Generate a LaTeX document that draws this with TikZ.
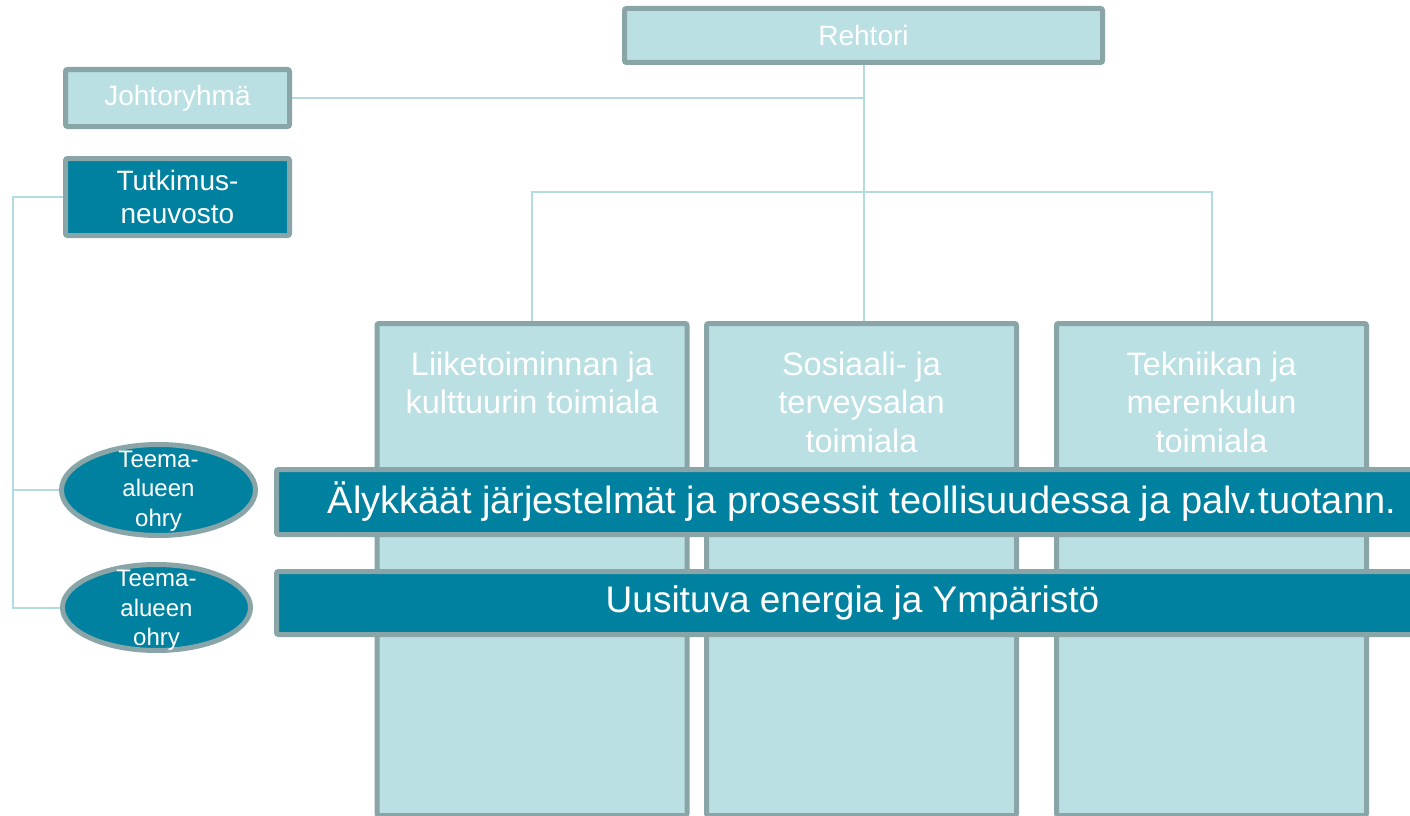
\documentclass[tikz,border=0pt]{standalone}
\usepackage{fontspec}
\setmainfont{Liberation Sans}
\usetikzlibrary{shapes,positioning,backgrounds}
\definecolor{vaalea}{HTML}{BAE0E3}
\definecolor{tumma}{HTML}{0081A0}
\definecolor{reuna}{HTML}{8AA5A7}
\definecolor{viiva}{HTML}{B2DCDF}

\begin{document}
\begin{tikzpicture}[x=1pt,y=-1pt,
        laatikko/.style={rectangle,draw=reuna,line width=5pt,rounded corners=2pt,inner sep=0pt,outer sep=0pt,text=white,align=center},
        vaalea laatikko/.style={laatikko,fill=vaalea},
        tumma laatikko/.style={laatikko,fill=tumma},
        pieni/.style={font=\fontsize{28}{33}\selectfont},
        toimiala/.style={vaalea laatikko,minimum width=310pt,minimum height=492pt},
        otsikko/.style={anchor=north,yshift=-28pt,inner sep=0pt,text=white,align=center,font=\fontsize{32.5}{38.5}\selectfont},
        teema/.style={ellipse,draw=reuna,fill=tumma,line width=5pt,inner sep=0pt,outer sep=0pt},
        teemateksti/.style={anchor=center,inner sep=0pt,text=white,align=center,font=\fontsize{24}{29.5}\selectfont},
        nauha/.style={tumma laatikko,font=\fontsize{37}{44}\selectfont},
        yhteys/.style={draw=viiva,line width=2pt}]
    \useasboundingbox (0,0) rectangle (1410,816);
    \node[vaalea laatikko,pieni,minimum width=478pt,minimum height=54pt] (rehtori) at (863.5,35.5) {Rehtori};
    \node[vaalea laatikko,pieni,minimum width=224pt,minimum height=57pt] (johto) at (177.5,98) {Johtoryhmä};
    \node[tumma laatikko,pieni,minimum width=224pt,minimum height=77pt,below=32pt of johto] (tutk) {Tutkimus-\\neuvosto};
    \node[toimiala,label={[otsikko]north:Liiketoiminnan ja\\kulttuurin toimiala}] (liike) at (532,569.5) {};
    \node[toimiala,label={[otsikko]north:Sosiaali- ja\\terveysalan\\toimiala}] (sote) at (861.5,569.5) {};
    \node[toimiala,label={[otsikko]north:Tekniikan ja\\merenkulun\\toimiala}] (tekniikka) at (1211.5,569.5) {};
    \node[nauha,minimum width=1171pt,minimum height=65pt,font=\fontsize{38}{44}\selectfont] (alykkaat) at (862,502) {Älykkäät järjestelmät ja prosessit teollisuudessa ja palv.tuotann.};
    \node[nauha,minimum width=1152pt,minimum height=63pt] (energia) at (852.5,603) {Uusituva energia ja Ympäristö};
    \node[teema,minimum width=194pt,minimum height=91pt,label={[teemateksti,yshift=-1pt]center:Teema-\\alueen\\ohry}] (teema1) at (158.5,490) {};
    \node[teema,minimum width=188pt,minimum height=86pt,label={[teemateksti,yshift=-3pt]center:Teema-\\alueen\\ohry}] (teema2) at (156.5,607.5) {};
    \begin{scope}[on background layer]
        \coordinate (haara) at (rehtori.south |- 0,192);
        \coordinate (runko) at (13,197);
        \draw[yhteys] (rehtori.south) -- (rehtori.south |- sote.north);
        \draw[yhteys] (liike.north) |- (haara) -| (tekniikka.north);
        \draw[yhteys] (johto.east) -- (johto.east -| rehtori.south);
        \draw[yhteys] (tutk.west) -- (runko) |- (teema2.west);
        \draw[yhteys] (teema1.west) -- (teema1.west -| runko);
    \end{scope}
\end{tikzpicture}
\end{document}
